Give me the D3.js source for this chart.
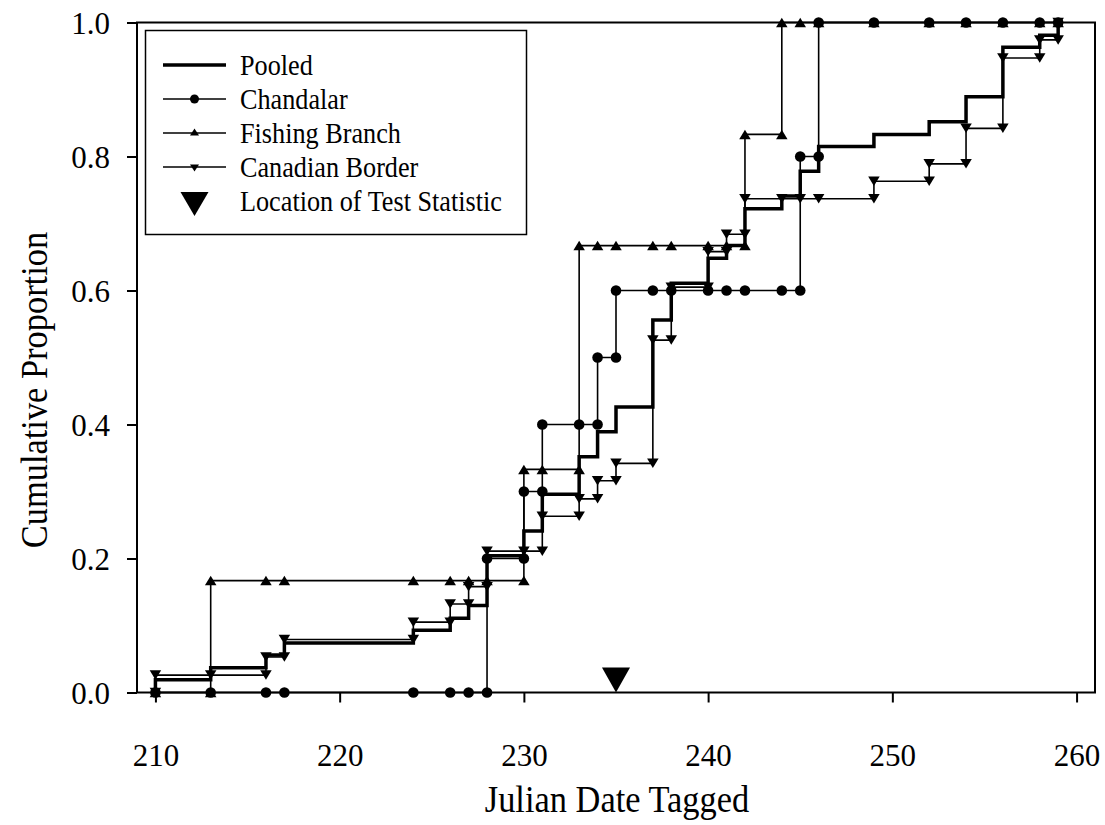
<!DOCTYPE html>
<html>
<head>
<meta charset="utf-8">
<script src="https://cdn.jsdelivr.net/npm/d3@7"></script>
<style>
  html, body { margin: 0; padding: 0; background: #fff; }
  svg { display: block; font-family: "Liberation Serif", "Times New Roman", serif; }
</style>
</head>
<body>
<svg id="chart" width="1105" height="825"></svg>
<script>
// pooled tagging dates (Julian day)
const days = [210, 213, 216, 217, 224, 226, 227, 228, 230, 231, 233, 234, 235, 237, 238,
  240, 241, 242, 244, 245, 246, 249, 252, 254, 256, 258, 259];

// cumulative proportion at each date
const pooled = [0.019, 0.037, 0.056, 0.074, 0.093, 0.111, 0.130, 0.204, 0.241, 0.296, 0.352, 0.389, 0.426, 0.556, 0.611,
  0.648, 0.667, 0.722, 0.741, 0.778, 0.815, 0.833, 0.852, 0.889, 0.963, 0.981, 1.0];
const chandalar = [0, 0, 0, 0, 0, 0, 0, 0.2, 0.3, 0.4, 0.4, 0.5, 0.6, 0.6, 0.6,
  0.6, 0.6, 0.6, 0.6, 0.8, 1, 1, 1, 1, 1, 1, 1];
const fishingBranch = [0, 0.167, 0.167, 0.167, 0.167, 0.167, 0.167, 0.167, 0.333, 0.333, 0.667, 0.667, 0.667, 0.667, 0.667,
  0.667, 0.667, 0.833, 1, 1, 1, 1, 1, 1, 1, 1, 1];
const canadianBorder = [0.026, 0.026, 0.053, 0.079, 0.105, 0.132, 0.158, 0.211, 0.211, 0.263, 0.289, 0.316, 0.342, 0.526, 0.605,
  0.658, 0.684, 0.737, 0.737, 0.737, 0.737, 0.763, 0.789, 0.842, 0.947, 0.974, 1.0];

const testStatDay = 235;

const xTicks = [210, 220, 230, 240, 250, 260];
const yTicks = [0, 0.2, 0.4, 0.6, 0.8, 1.0];

const FONT = "Liberation Serif, Times New Roman, serif";

const svg = d3.select("#chart");
const x = d3.scaleLinear().domain([209, 261]).range([137, 1095]);
const y = d3.scaleLinear().domain([0, 1]).range([692.5, 22.5]);

// expand to step points: value before and after each jump
function stepPoints(vals) {
  const pts = [];
  let prev = 0;
  days.forEach((d, i) => {
    if (vals[i] !== prev) pts.push([d, prev]);
    pts.push([d, vals[i]]);
    prev = vals[i];
  });
  return pts;
}

const line = d3.line().x(d => x(d[0])).y(d => y(d[1]));

const triUp = (w, h) => `M0,${-h / 2}L${w / 2},${h / 2}L${-w / 2},${h / 2}Z`;
const triDown = (w, h) => `M0,${h / 2}L${w / 2},${-h / 2}L${-w / 2},${-h / 2}Z`;

const series = [
  { name: "Canadian Border", vals: canadianBorder, shape: "down" },
  { name: "Fishing Branch", vals: fishingBranch, shape: "up" },
  { name: "Chandalar", vals: chandalar, shape: "circle" },
];

// axes
const xAxis = svg.append("g")
  .attr("transform", `translate(0,${y(0)})`)
  .call(d3.axisBottom(x).tickValues(xTicks).tickSize(10).tickFormat(d3.format("d")));
xAxis.select(".domain").remove();
xAxis.selectAll("line").attr("stroke", "#000").attr("stroke-width", 2);
xAxis.selectAll("text")
  .attr("y", 73).attr("dy", null)
  .attr("font-family", FONT)
  .attr("font-size", 31).attr("fill", "#000");

const yAxis = svg.append("g")
  .attr("transform", `translate(${x(209)},0)`)
  .call(d3.axisLeft(y).tickValues(yTicks).tickSize(10).tickFormat(d3.format(".1f")));
yAxis.select(".domain").remove();
yAxis.selectAll("line").attr("stroke", "#000").attr("stroke-width", 2);
yAxis.selectAll("text")
  .attr("x", -27).attr("dy", "0.34em")
  .attr("font-family", FONT)
  .attr("font-size", 31).attr("fill", "#000");

// frame
svg.append("rect")
  .attr("x", x(209)).attr("y", y(1))
  .attr("width", x(261) - x(209)).attr("height", y(0) - y(1))
  .attr("fill", "none").attr("stroke", "#000").attr("stroke-width", 2);

// group lines
series.forEach(s => {
  svg.append("path")
    .datum(stepPoints(s.vals))
    .attr("d", line)
    .attr("fill", "none")
    .attr("stroke", "#000")
    .attr("stroke-width", 1.6);
});

// pooled thick line
svg.append("path")
  .datum(stepPoints(pooled))
  .attr("d", line)
  .attr("fill", "none")
  .attr("stroke", "#000")
  .attr("stroke-width", 3.5);

// symbols
series.forEach(s => {
  const pts = stepPoints(s.vals);
  const g = svg.append("g");
  if (s.shape === "circle") {
    g.selectAll("circle").data(pts).join("circle")
      .attr("cx", d => x(d[0])).attr("cy", d => y(d[1])).attr("r", 5.3).attr("fill", "#000");
  } else {
    g.selectAll("path").data(pts).join("path")
      .attr("transform", d => `translate(${x(d[0])},${y(d[1])})`)
      .attr("d", s.shape === "up" ? triUp(11.5, 9.5) : triDown(11.5, 9.5))
      .attr("fill", "#000");
  }
});

// location of test statistic
svg.append("path")
  .attr("transform", `translate(${x(testStatDay)},${y(0) - 12.5})`)
  .attr("d", triDown(28, 25))
  .attr("fill", "#000");

// axis titles
svg.append("text")
  .attr("transform", "translate(617,812) scale(0.93,1)")
  .attr("text-anchor", "middle")
  .attr("font-size", 37)
  .text("Julian Date Tagged");

svg.append("text")
  .attr("transform", "translate(47,390) rotate(-90) scale(0.93,1)")
  .attr("text-anchor", "middle")
  .attr("font-size", 37)
  .text("Cumulative Proportion");

// legend
const legend = svg.append("g");
legend.append("rect")
  .attr("x", 145.5).attr("y", 30.5).attr("width", 381).attr("height", 204)
  .attr("fill", "#fff").attr("stroke", "#000").attr("stroke-width", 1.5);

const legendItems = [
  { name: "Pooled", shape: "pooled" },
  { name: "Chandalar", shape: "circle" },
  { name: "Fishing Branch", shape: "up" },
  { name: "Canadian Border", shape: "down" },
  { name: "Location of Test Statistic", shape: "test" },
];

legendItems.forEach((it, i) => {
  const cy = 65 + i * 34;
  if (it.shape !== "test") {
    legend.append("line")
      .attr("x1", 163).attr("x2", 226).attr("y1", cy).attr("y2", cy)
      .attr("stroke", "#000").attr("stroke-width", it.shape === "pooled" ? 3.5 : 1.6);
  }
  if (it.shape === "circle") {
    legend.append("circle").attr("cx", 194.5).attr("cy", cy).attr("r", 4.5).attr("fill", "#000");
  } else if (it.shape === "up") {
    legend.append("path").attr("transform", `translate(194.5,${cy - 1})`).attr("d", triUp(9, 7)).attr("fill", "#000");
  } else if (it.shape === "down") {
    legend.append("path").attr("transform", `translate(194.5,${cy + 1})`).attr("d", triDown(9, 7)).attr("fill", "#000");
  } else if (it.shape === "test") {
    legend.append("path").attr("transform", `translate(194.5,${cy + 3})`).attr("d", triDown(28, 24)).attr("fill", "#000");
  }
  legend.append("text")
    .attr("transform", `translate(240,${cy + 10}) scale(0.92,1)`)
    .attr("font-size", 28.5)
    .text(it.name);
});
</script>
</body>
</html>
